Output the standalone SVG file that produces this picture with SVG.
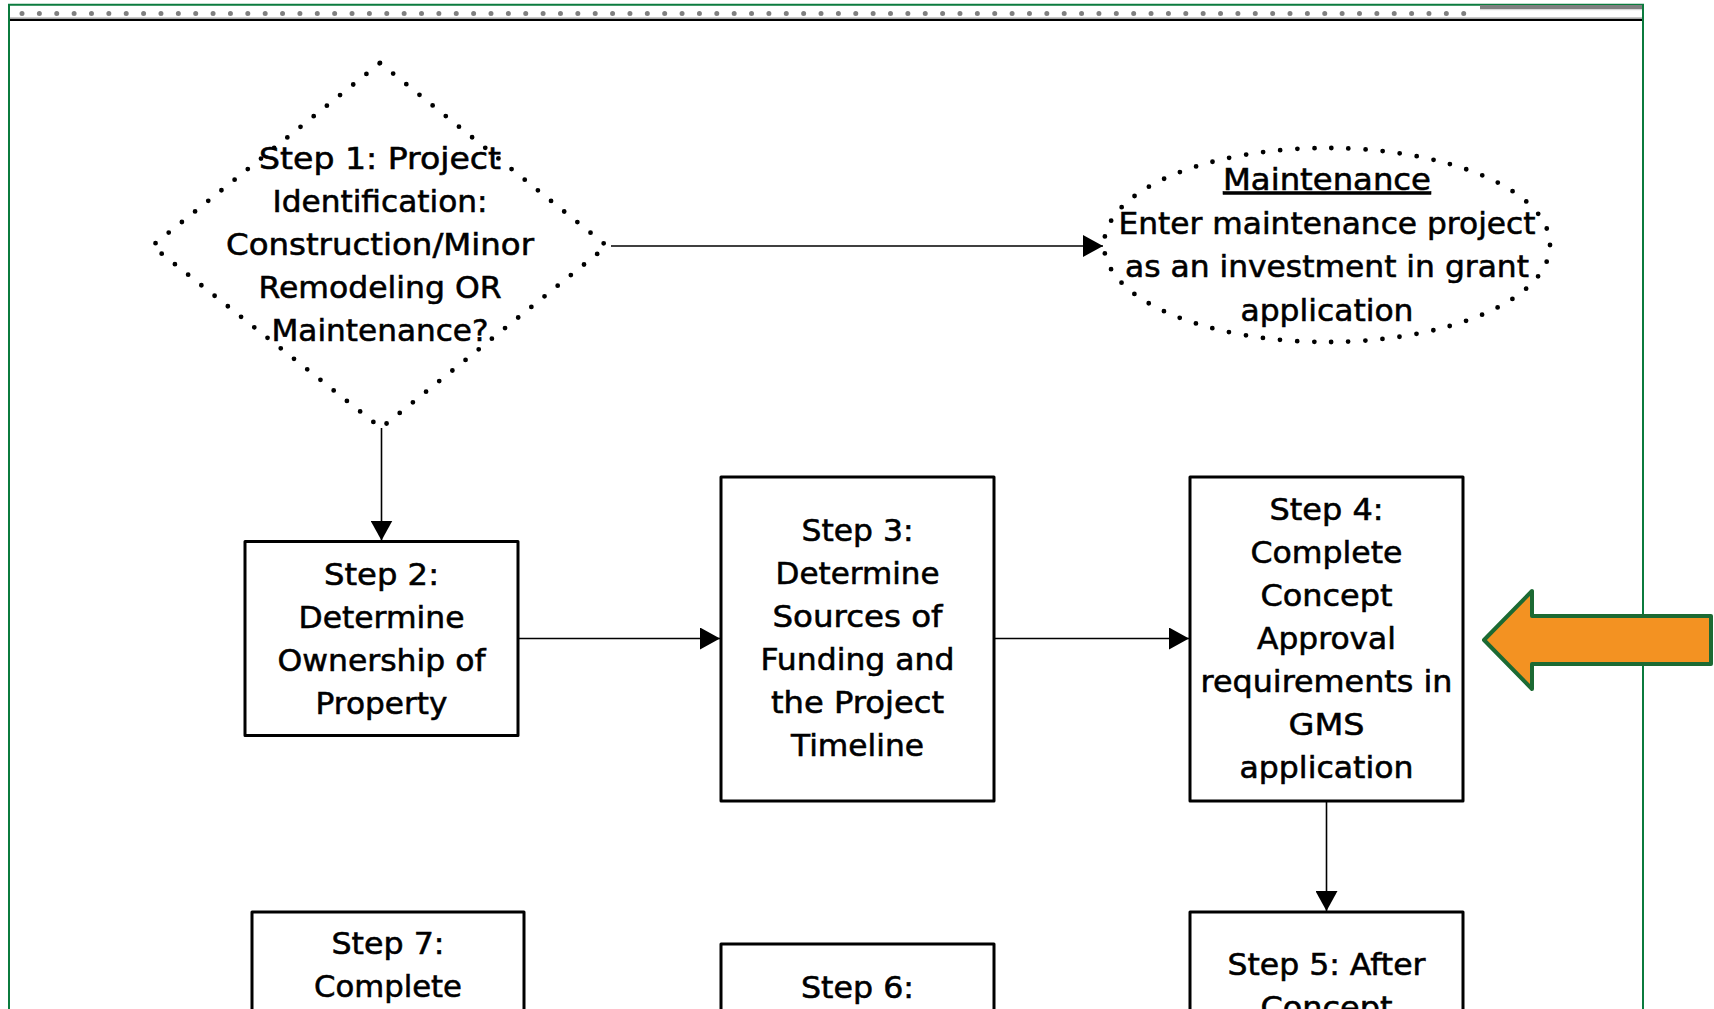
<svg xmlns="http://www.w3.org/2000/svg" width="1714" height="1009" viewBox="0 0 1714 1009">
<style>
.box{fill:#fff;stroke:#000;stroke-width:3;stroke-linejoin:round}
.t{font-family:"DejaVu Sans","Liberation Sans",sans-serif;font-size:29.5px;text-anchor:middle;fill:#000;stroke:#000;stroke-width:0.55px}
.dotted{fill:none;stroke:#000;stroke-width:4.8;stroke-linecap:round}
.conn{fill:none;stroke:#000;stroke-width:1.6;marker-end:url(#ah)}
</style>
<defs>
<marker id="ah" markerUnits="userSpaceOnUse" markerWidth="20" markerHeight="22" refX="20" refY="11" orient="auto" viewBox="0 0 20 22">
<path d="M0,0 L20,11 L0,22 z" fill="#000"/>
</marker>
</defs>
<rect width="1714" height="1009" fill="#fff"/>

<g id="frame">
<path d="M9,1009 V4.8 H1643 V1009" fill="none" stroke="#0b7b3e" stroke-width="2"/>
<rect x="1480" y="5" width="162" height="4.2" fill="#7f7f7f"/>
<rect x="1480" y="9.2" width="162" height="1" fill="#d6d6d6"/>
<line x1="22" y1="13.4" x2="1464" y2="13.4" stroke="#808080" stroke-width="5" stroke-linecap="round" stroke-dasharray="0 17.37"/>
<line x1="10" y1="17.9" x2="1642" y2="17.9" stroke="#a6a6a6" stroke-width="1"/>
<line x1="10" y1="19.8" x2="1642" y2="19.8" stroke="#000" stroke-width="2.3"/>
</g>

<g id="connectors">
<line class="conn" x1="611" y1="246" x2="1103" y2="246"/>
<line class="conn" x1="381.5" y1="428" x2="381.5" y2="540.5"/>
<line class="conn" x1="518" y1="638.5" x2="720" y2="638.5"/>
<line class="conn" x1="994" y1="638.5" x2="1189" y2="638.5"/>
<line class="conn" x1="1326.5" y1="801" x2="1326.5" y2="911"/>
</g>

<g id="step1">
<polygon class="dotted" points="380,63 607,246 381,428 152,246" stroke-dasharray="0 16.9"/>
<text class="t" x="380" y="169" textLength="242" lengthAdjust="spacingAndGlyphs">Step 1: Project</text>
<text class="t" x="380" y="212" textLength="215" lengthAdjust="spacingAndGlyphs">Identification:</text>
<text class="t" x="380" y="255" textLength="308" lengthAdjust="spacingAndGlyphs">Construction/Minor</text>
<text class="t" x="380" y="297.5" textLength="243" lengthAdjust="spacingAndGlyphs">Remodeling OR</text>
<text class="t" x="380" y="341" textLength="217" lengthAdjust="spacingAndGlyphs">Maintenance?</text>
</g>

<g id="maintenance">
<ellipse class="dotted" cx="1327" cy="245" rx="223" ry="97" stroke-dasharray="0 17.12"/>
<text class="t" x="1327" y="189.5" textLength="208" lengthAdjust="spacingAndGlyphs" text-decoration="underline">Maintenance</text>
<text class="t" x="1327" y="233.5" textLength="417" lengthAdjust="spacingAndGlyphs">Enter maintenance project</text>
<text class="t" x="1327" y="277" textLength="404" lengthAdjust="spacingAndGlyphs">as an investment in grant</text>
<text class="t" x="1327" y="320.5" textLength="173" lengthAdjust="spacingAndGlyphs">application</text>
</g>

<g id="step2">
<rect class="box" x="245" y="541.5" width="273" height="194"/>
<text class="t" x="381.5" y="584.5" textLength="115" lengthAdjust="spacingAndGlyphs">Step 2:</text>
<text class="t" x="381.5" y="627.5" textLength="166" lengthAdjust="spacingAndGlyphs">Determine</text>
<text class="t" x="381.5" y="670.5" textLength="208" lengthAdjust="spacingAndGlyphs">Ownership of</text>
<text class="t" x="381.5" y="713.5" textLength="132" lengthAdjust="spacingAndGlyphs">Property</text>
</g>

<g id="step3">
<rect class="box" x="721" y="477" width="273" height="324"/>
<text class="t" x="857.5" y="540.5" textLength="112" lengthAdjust="spacingAndGlyphs">Step 3:</text>
<text class="t" x="857.5" y="584" textLength="164" lengthAdjust="spacingAndGlyphs">Determine</text>
<text class="t" x="857.5" y="627" textLength="170" lengthAdjust="spacingAndGlyphs">Sources of</text>
<text class="t" x="857.5" y="670" textLength="194" lengthAdjust="spacingAndGlyphs">Funding and</text>
<text class="t" x="857.5" y="713" textLength="173" lengthAdjust="spacingAndGlyphs">the Project</text>
<text class="t" x="857.5" y="756" textLength="133" lengthAdjust="spacingAndGlyphs">Timeline</text>
</g>

<g id="step4">
<rect class="box" x="1190" y="477" width="273" height="324"/>
<text class="t" x="1326.5" y="519.5" textLength="114" lengthAdjust="spacingAndGlyphs">Step 4:</text>
<text class="t" x="1326.5" y="562.5" textLength="152" lengthAdjust="spacingAndGlyphs">Complete</text>
<text class="t" x="1326.5" y="605.5" textLength="132" lengthAdjust="spacingAndGlyphs">Concept</text>
<text class="t" x="1326.5" y="648.5" textLength="139" lengthAdjust="spacingAndGlyphs">Approval</text>
<text class="t" x="1326.5" y="691.5" textLength="252" lengthAdjust="spacingAndGlyphs">requirements in</text>
<text class="t" x="1326.5" y="734.5" textLength="76" lengthAdjust="spacingAndGlyphs">GMS</text>
<text class="t" x="1326.5" y="777.5" textLength="174" lengthAdjust="spacingAndGlyphs">application</text>
</g>

<g id="step5">
<rect class="box" x="1190" y="912" width="273" height="130"/>
<text class="t" x="1326.5" y="975" textLength="198" lengthAdjust="spacingAndGlyphs">Step 5: After</text>
<text class="t" x="1326.5" y="1018" textLength="132" lengthAdjust="spacingAndGlyphs">Concept</text>
</g>

<g id="step6">
<rect class="box" x="721" y="944" width="273" height="100"/>
<text class="t" x="857.5" y="998" textLength="113" lengthAdjust="spacingAndGlyphs">Step 6:</text>
</g>

<g id="step7">
<rect class="box" x="252" y="912" width="272" height="130"/>
<text class="t" x="388" y="953.5" textLength="113" lengthAdjust="spacingAndGlyphs">Step 7:</text>
<text class="t" x="388" y="996.5" textLength="148" lengthAdjust="spacingAndGlyphs">Complete</text>
</g>

<g id="pointer">
<polygon points="1484,640 1532,591 1532,616 1711,616 1711,664 1532,664 1532,689" fill="#f39222" stroke="#1c6a33" stroke-width="4" stroke-linejoin="round"/>
</g>
</svg>
